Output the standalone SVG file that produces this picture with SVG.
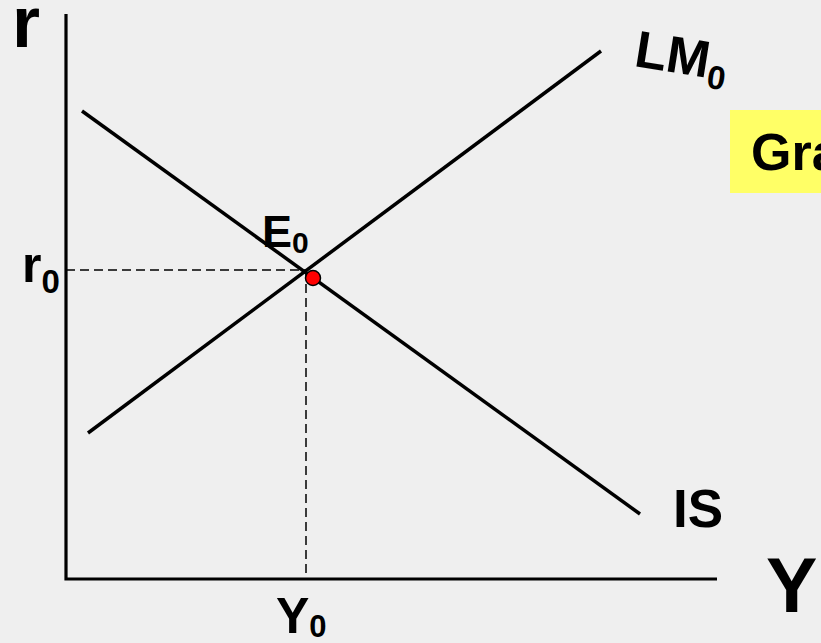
<svg xmlns="http://www.w3.org/2000/svg" width="821" height="643" viewBox="0 0 821 643">
<style>
.ax{stroke:#000;stroke-width:3.2;fill:none}
.crv{stroke:#000;stroke-width:3.5;fill:none}
.dash{stroke:#000;stroke-width:1.5;stroke-dasharray:9 5;fill:none}
.t{font-family:"Liberation Sans",Arial,sans-serif;font-weight:bold;fill:#000}
</style>
<rect width="821" height="643" fill="#efefef"/>
<g id="axes">
<polyline class="ax" points="66,14 66,579 717,579"/>
</g>
<g id="connectors">
<line class="dash" x1="66" y1="270" x2="306" y2="270"/>
<line class="dash" x1="306" y1="270" x2="306" y2="578"/>
</g>
<g id="LM">
<line class="crv" x1="88" y1="433" x2="601" y2="51"/>
<text class="t" transform="translate(633,66) rotate(9)" font-size="52">LM<tspan font-size="33" dy="10">0</tspan></text>
</g>
<g id="IS">
<line class="crv" x1="82" y1="111" x2="640" y2="514"/>
<text class="t" x="673" y="527" font-size="53">IS</text>
</g>
<g id="E0">
<circle cx="313" cy="278" r="7.5" fill="#ff0000" stroke="#000" stroke-width="1.5"/>
<text class="t" x="262" y="247" font-size="45">E<tspan font-size="30" dy="6">0</tspan></text>
</g>
<g id="labels">
<text class="t" x="12" y="47" font-size="72">r</text>
<text class="t" x="22" y="282" font-size="50">r<tspan font-size="33" dy="11">0</tspan></text>
<text class="t" x="276" y="633" font-size="50">Y<tspan font-size="31" dy="4">0</tspan></text>
<text class="t" x="766" y="612" font-size="77">Y</text>
</g>
<g id="note">
<rect x="730" y="110" width="95" height="83" fill="#ffff66"/>
<text class="t" x="751" y="170" font-size="52">Gra</text>
</g>
</svg>
